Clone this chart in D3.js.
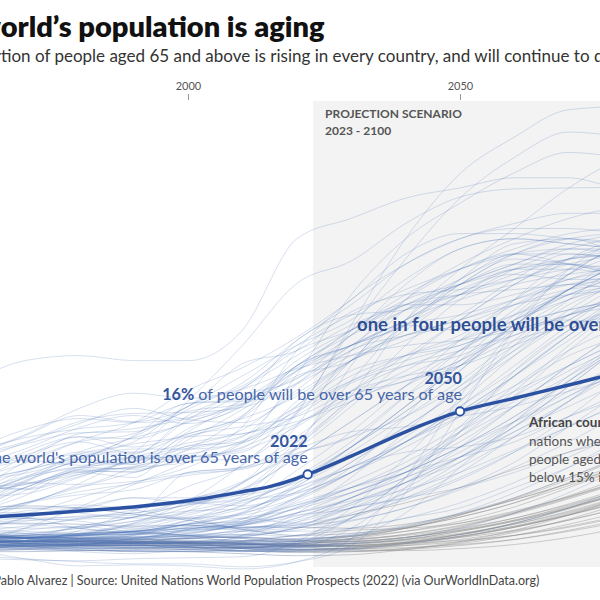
<!DOCTYPE html>
<meta charset="utf-8">
<head>
<style>
  body { margin: 0; background: #fff; }
  svg { display: block; font-family: Lato, "Open Sans", sans-serif; }
  .tick line { stroke: #999; }
  .tick text { fill: #555; font-size: 11px; font-family: Lato, sans-serif; }
</style>
</head>
<body>
<script src="https://d3js.org/d3.v7.min.js"></script>
<script>
var width = 600,
    height = 600;

// share of population aged 65+ (%), one value per decade
var years = [1950,1960,1970,1980,1990,2000,2010,2020,2030,2040,2050,2060,2070,2080,2090,2100];
var tickYears = [1950, 2000, 2050, 2100];

var worldYears = [1950,1960,1970,1980,1990,2000,2010,2015,2020,2022,2030,2040,2050,2060,2070,2080,2090,2100];
var worldShare = [5.4,5.5,5.8,6.2,6.6,7.2,8.1,8.6,9.4,9.8,11.6,14.0,16.0,17.3,18.6,20.0,21.8,23.5];

var eastAsia = [
  ["Japan",       [4.9,5.6,6.9,8.9,11.9,17.0,22.5,28.6,30.8,34.5,37.1,37.9,38.0,38.1,38.5,38.7]],
  ["South Korea", [2.9,3.1,3.3,3.8,5.0,7.2,10.8,15.8,24.5,33.0,39.4,43.0,45.7,46.0,45.0,44.4]],
  ["Hong Kong",   [2.5,2.9,4.5,6.6,8.8,11.0,12.9,19.6,27.5,33.0,36.5,39.5,41.5,41.0,40.5,40.7]],
  ["Taiwan",      [2.5,2.5,2.9,4.3,6.2,8.6,10.7,16.0,24.0,31.0,37.0,41.0,43.5,43.0,42.0,41.0]],
  ["Macao",       [5.0,6.0,6.5,6.5,7.5,7.0,7.5,12.5,20.5,27.0,30.5,33.0,35.0,36.0,36.0,36.0]],
  ["China",       [4.5,4.0,3.8,4.7,5.6,6.9,8.3,12.6,17.6,25.0,30.0,34.0,38.0,41.0,42.5,43.0]],
  ["Singapore",   [2.4,2.0,3.3,4.7,5.6,7.3,9.0,14.6,22.0,27.0,30.0,32.0,33.5,34.0,34.0,33.5]],
  ["Thailand",    [3.2,3.5,3.9,4.5,5.2,6.6,8.9,13.0,19.0,25.0,29.0,31.5,33.0,33.5,33.5,33.5]],
  ["North Korea", [3.0,3.5,3.8,4.2,4.6,6.2,9.0,11.8,13.5,17.5,20.5,23.0,24.5,26.5,28.5,30.0]],
  ["Vietnam",     [5.3,5.0,5.3,5.4,5.6,6.2,6.4,8.6,12.5,16.5,20.5,24.5,28.0,31.5,33.5,34.5]]
];

var europe = [
  ["Monaco",      [17.0,19.0,21.0,21.5,21.0,21.0,24.0,33.0,35.0,37.0,38.0,39.0,39.0,38.0,38.0,37.0]],
  ["Italy",       [8.1,9.3,10.9,13.1,14.9,18.1,20.3,23.3,27.0,31.5,33.5,33.5,33.0,32.5,32.5,32.5]],
  ["Spain",       [7.3,8.2,9.6,11.2,13.6,16.8,17.0,20.0,23.5,28.5,32.0,33.0,32.5,32.0,31.5,31.5]],
  ["Germany",     [9.5,11.5,13.6,15.6,15.0,16.5,20.7,22.0,25.8,27.5,28.0,29.0,30.0,30.5,31.0,31.5]],
  ["France",      [11.4,11.6,12.8,13.9,14.0,16.0,16.8,21.0,24.0,26.5,27.5,28.0,28.5,29.0,29.5,30.0]],
  ["Sweden",      [10.2,11.8,13.7,16.3,17.8,17.3,18.2,20.2,21.5,22.5,23.0,24.0,25.5,26.5,27.5,28.0]],
  ["United Kingdom", [10.8,11.7,13.0,15.0,15.8,15.9,16.4,18.7,21.5,23.5,25.0,26.5,27.5,28.0,29.0,29.5]],
  ["Greece",      [6.8,8.0,11.0,13.0,13.8,16.5,19.5,22.5,25.0,29.0,32.0,33.0,32.5,32.0,31.5,31.0]],
  ["Portugal",    [7.0,7.9,9.4,11.3,13.5,16.2,18.8,23.0,26.5,30.5,33.0,34.0,34.0,33.5,33.0,32.5]],
  ["Poland",      [5.2,5.9,8.2,10.1,10.1,12.2,13.5,18.7,22.5,25.0,28.5,31.5,33.0,32.5,31.5,30.5]],
  ["Russia",      [4.8,6.0,7.7,10.2,10.0,12.6,13.0,15.6,18.8,20.5,21.5,24.0,25.0,24.5,24.0,24.5]],
  ["Ukraine",     [6.5,7.5,10.0,12.0,12.0,13.8,15.3,17.5,21.0,23.0,25.5,29.0,31.5,31.0,30.0,29.5]],
  ["Bulgaria",    [6.5,7.5,9.5,11.8,13.0,16.5,18.5,22.0,24.0,26.5,29.0,31.5,31.5,31.0,30.5,30.5]],
  ["Hungary",     [7.5,8.8,11.5,13.5,13.3,15.0,16.7,20.0,22.5,24.5,28.5,31.0,30.5,29.5,29.5,30.0]],
  ["Austria",     [10.5,12.2,14.2,15.3,14.9,15.4,17.6,19.2,23.5,27.0,28.5,30.0,31.0,31.5,32.0,32.5]],
  ["Finland",     [6.7,7.3,9.1,12.0,13.4,14.9,17.3,23.0,25.5,26.0,27.5,29.5,31.0,32.0,33.0,33.5]],
  ["Norway",      [9.6,11.0,12.9,14.8,16.3,15.2,14.9,17.8,21.0,23.5,25.0,27.0,29.0,30.5,31.5,32.0]],
  ["Denmark",     [9.1,10.6,12.3,14.4,15.6,14.8,16.6,20.3,22.5,24.5,24.0,25.5,27.5,28.5,29.5,30.0]],
  ["Netherlands", [7.7,9.0,10.2,11.5,12.8,13.6,15.4,20.0,24.0,26.5,26.5,27.5,29.0,30.0,31.0,31.5]],
  ["Belgium",     [11.0,12.0,13.4,14.3,14.9,16.8,17.2,19.3,22.0,24.5,25.5,27.0,28.5,29.5,30.5,31.0]],
  ["Switzerland", [9.5,10.2,11.3,13.8,14.3,15.3,16.7,18.8,22.5,26.0,27.5,29.0,30.5,31.5,32.0,32.5]],
  ["Czechia",     [8.2,9.5,12.0,13.5,12.5,13.8,15.6,20.5,22.5,25.0,28.0,29.5,29.0,29.0,29.5,30.0]],
  ["Romania",     [6.5,7.0,8.5,10.3,10.4,13.2,16.2,19.5,21.0,24.5,29.0,32.5,33.0,31.5,30.5,30.5]],
  ["Croatia",     [8.0,8.3,10.2,11.8,11.8,15.6,18.2,22.5,25.5,28.0,30.0,31.5,32.0,31.5,31.0,31.0]],
  ["Serbia",      [5.8,6.5,8.5,10.5,11.0,14.3,16.5,20.5,22.5,24.5,27.5,30.0,30.5,30.0,30.0,30.5]],
  ["Latvia",      [8.5,9.8,11.7,13.0,11.9,15.2,18.3,21.5,24.5,26.5,28.5,30.5,30.5,29.5,29.0,29.5]],
  ["Lithuania",   [8.5,9.2,10.2,11.3,10.8,14.0,17.1,20.5,24.0,27.5,30.0,31.5,30.5,29.5,29.0,29.5]],
  ["Ireland",     [10.7,11.1,11.2,10.7,11.4,11.2,11.3,14.7,18.0,21.5,25.0,28.5,31.0,31.5,32.0,32.5]],
  ["Malta",       [6.0,7.5,9.0,8.8,10.5,12.3,15.5,20.5,23.5,26.0,28.5,30.5,32.0,32.0,31.5,31.0]],
  ["Iceland",     [7.5,8.0,8.8,9.8,10.6,11.5,12.2,14.5,18.0,20.5,22.0,23.5,25.5,27.0,28.0,28.5]],
  ["Cyprus",      [5.5,6.2,8.5,10.0,10.5,11.0,12.5,14.8,17.5,20.0,23.0,25.5,28.0,29.5,30.0,30.5]],
  ["Slovakia",    [6.5,6.8,9.2,10.5,10.3,11.4,12.4,17.0,21.0,24.0,27.5,30.0,30.0,29.5,29.5,30.0]],
  ["Belarus",     [5.5,6.5,9.0,11.0,10.8,13.5,13.8,16.0,19.0,21.5,23.5,26.5,28.5,28.0,27.5,27.5]],
  ["Moldova",     [5.5,6.0,7.0,7.8,8.3,10.0,10.5,13.0,17.0,19.0,20.5,24.0,27.0,28.5,28.5,28.5]],
  ["Georgia",     [7.5,8.0,8.8,10.0,9.5,13.5,14.5,15.5,18.0,19.5,20.5,22.5,24.5,25.5,26.0,26.5]],
  ["Armenia",     [6.0,5.5,5.5,5.6,5.8,10.0,10.5,13.5,17.5,19.0,21.0,24.5,27.5,29.0,29.0,28.5]]
];

var americasOceania = [
  ["United States", [8.2,9.1,9.9,11.3,12.3,12.3,12.9,16.6,20.0,21.5,22.5,24.5,26.0,27.0,28.0,28.5]],
  ["Canada",      [7.7,7.6,7.9,9.5,11.3,12.6,14.2,18.1,22.0,23.5,24.5,26.5,28.0,28.5,29.0,29.0]],
  ["Australia",   [8.1,8.6,8.3,9.6,11.1,12.4,13.6,16.4,19.0,21.0,22.5,24.5,26.0,27.0,28.0,28.5]],
  ["New Zealand", [9.0,8.7,8.4,9.8,11.1,11.8,13.1,16.1,19.5,21.5,23.0,25.0,27.0,28.5,29.5,30.0]],
  ["Brazil",      [2.4,2.6,3.5,4.0,4.3,5.3,6.8,9.6,13.0,17.5,22.0,26.0,29.5,31.5,32.5,33.0]],
  ["Mexico",      [3.2,3.4,3.7,3.9,4.2,4.9,5.9,8.1,11.0,14.5,18.0,22.0,26.0,29.0,31.5,32.5]],
  ["Argentina",   [4.2,5.5,7.0,8.1,8.9,9.7,10.4,11.9,13.5,15.5,18.5,22.0,25.0,27.5,29.0,30.0]],
  ["Chile",       [4.3,4.6,5.2,5.7,6.0,7.3,9.1,12.3,16.5,21.0,25.0,28.5,31.0,32.5,33.0,33.5]],
  ["Colombia",    [3.3,3.1,3.3,3.7,4.2,4.9,6.0,8.9,12.5,16.5,21.0,25.5,29.5,32.5,34.0,35.0]],
  ["Cuba",        [4.5,5.2,5.9,7.5,9.0,10.5,13.0,15.8,21.0,26.0,28.5,30.5,32.5,33.5,34.0,34.0]],
  ["Puerto Rico", [3.8,5.5,7.0,8.5,10.0,11.5,14.5,22.0,27.0,30.5,33.0,34.5,35.5,35.5,35.0,35.0]],
  ["Uruguay",     [8.0,8.5,8.9,10.3,11.5,12.9,13.8,15.0,17.0,19.5,22.0,25.0,28.0,30.5,32.0,33.0]],
  ["Peru",        [3.5,3.5,3.5,3.7,4.2,4.9,6.1,8.7,11.5,14.5,18.0,21.5,25.0,28.0,30.5,32.0]],
  ["Costa Rica",  [3.3,3.4,3.5,3.9,4.8,5.6,6.7,10.2,14.0,18.5,23.0,27.0,30.0,32.0,33.0,33.5]],
  ["Jamaica",     [3.3,4.0,5.5,6.5,7.5,7.5,7.8,9.0,12.0,15.5,19.0,23.0,27.0,30.5,33.0,34.5]],
  ["Ecuador",     [4.0,3.7,3.6,3.8,4.1,5.2,6.4,7.9,10.0,13.0,16.5,20.0,24.0,27.5,30.5,32.5]],
  ["Venezuela",   [2.6,2.8,3.0,3.3,3.8,4.4,5.4,8.5,10.5,13.0,16.0,19.5,23.5,27.0,30.0,32.0]],
  ["Bolivia",     [3.6,3.4,3.6,3.8,4.2,4.7,5.4,6.8,8.0,10.0,12.5,15.5,19.0,22.5,25.5,28.0]],
  ["Guatemala",   [2.5,2.7,2.9,3.0,3.5,4.2,4.6,4.9,5.8,7.3,9.3,12.0,15.5,19.5,23.0,26.5]],
  ["Honduras",    [3.0,2.9,3.0,3.2,3.4,3.8,4.2,4.6,6.0,8.0,10.5,13.5,17.0,21.0,24.5,28.0]],
  ["Haiti",       [5.0,4.5,4.2,4.0,4.2,4.5,4.6,4.8,5.3,6.5,8.3,10.5,13.0,16.0,19.5,23.0]],
  ["Dominican Republic", [2.5,2.6,2.9,3.2,3.8,5.0,6.0,7.5,10.0,13.0,16.0,19.5,23.0,26.5,29.0,31.0]],
  ["Barbados",    [6.5,7.5,9.5,10.5,11.5,11.5,12.0,16.5,21.0,25.0,27.0,28.5,29.5,30.0,30.0,30.0]],
  ["Trinidad and Tobago", [3.5,3.5,4.5,5.5,6.0,6.8,8.2,11.5,15.0,18.5,21.0,23.5,25.5,27.0,28.0,28.5]],
  ["Panama",      [3.5,3.8,4.0,4.5,5.2,6.0,7.0,8.5,10.5,13.0,15.5,18.0,20.5,23.0,25.0,26.5]],
  ["Paraguay",    [3.6,3.5,3.5,3.5,3.9,4.6,5.5,6.4,8.0,10.0,12.5,15.5,19.0,22.5,25.5,28.0]],
  ["Nicaragua",   [2.7,2.6,2.7,2.9,3.1,3.6,4.4,5.3,6.8,9.0,11.5,14.5,18.5,22.5,26.0,29.0]],
  ["El Salvador", [3.2,3.4,3.5,3.9,4.9,5.8,7.2,8.0,10.0,12.5,15.5,19.5,23.5,27.5,30.5,32.5]],
  ["Guyana",      [3.0,3.2,3.5,3.8,4.2,4.5,5.0,7.0,8.5,10.0,12.5,15.0,17.5,20.5,23.0,25.0]],
  ["Papua New Guinea", [3.0,2.9,2.6,2.5,2.6,2.8,2.9,3.2,3.9,4.8,6.0,7.5,9.5,11.5,13.5,15.5]],
  ["Fiji",        [3.0,2.8,2.5,2.8,3.5,4.0,4.8,6.0,8.0,10.0,11.5,13.0,15.5,18.0,20.5,22.5]]
];

var asiaMiddleEast = [
  ["India",       [3.1,3.1,3.4,3.8,3.9,4.4,5.2,6.8,8.5,10.5,13.5,16.5,19.5,22.5,24.5,26.0]],
  ["Indonesia",   [4.0,3.4,3.3,3.5,3.9,4.6,5.0,6.6,9.0,11.5,14.5,17.5,20.5,23.0,25.0,26.5]],
  ["Iran",        [4.0,3.6,3.6,3.2,3.3,4.4,5.1,7.6,10.5,15.5,21.5,27.0,31.0,33.0,33.5,33.0]],
  ["Turkey",      [3.3,3.5,4.3,4.7,4.2,5.3,7.2,9.2,12.5,16.0,20.0,24.5,28.0,30.5,31.5,32.0]],
  ["Bangladesh",  [4.1,3.6,3.2,3.4,3.5,4.3,4.8,5.7,7.5,10.5,14.0,18.0,22.5,26.5,29.5,31.5]],
  ["Philippines", [3.4,2.9,2.9,3.0,3.1,3.4,4.2,5.5,7.0,9.0,11.5,14.0,17.0,20.0,23.0,25.0]],
  ["Pakistan",    [3.7,3.6,3.6,3.6,3.7,3.8,4.2,4.2,4.5,5.5,7.0,9.0,11.5,14.0,17.0,20.0]],
  ["Sri Lanka",   [4.6,4.3,4.7,5.4,6.3,7.4,8.4,11.5,15.0,18.5,22.0,25.0,27.5,29.5,31.0,32.0]],
  ["Malaysia",    [4.4,3.8,3.6,3.8,3.7,4.0,5.0,7.2,10.0,13.5,17.0,21.5,25.5,28.5,30.5,31.5]],
  ["Saudi Arabia", [3.2,3.3,3.1,2.7,2.6,2.6,2.3,2.6,4.5,8.5,14.0,20.0,24.0,26.5,29.0,30.5]],
  ["United Arab Emirates", [2.5,2.3,1.5,0.8,0.9,0.8,0.5,1.2,3.5,9.5,17.5,24.0,28.0,30.5,32.0,33.0]],
  ["Qatar",       [2.0,1.8,1.5,1.2,1.0,1.0,0.7,1.2,2.8,8.0,16.0,24.0,30.0,33.0,34.0,34.5]],
  ["Kuwait",      [2.5,1.6,1.4,1.3,1.5,1.6,1.7,3.2,6.5,11.5,17.0,22.5,26.5,28.5,30.0,31.0]],
  ["Oman",        [2.5,2.6,2.8,2.6,2.2,2.4,2.5,2.5,3.5,6.0,10.5,15.0,19.5,23.0,26.0,28.0]],
  ["Bahrain",     [2.5,2.5,2.6,2.2,2.0,2.3,2.2,3.0,5.5,9.5,14.0,18.5,22.0,24.5,26.5,28.0]],
  ["Israel",      [4.0,5.0,6.8,8.6,9.1,9.9,10.3,12.3,14.0,14.5,15.5,16.5,18.0,19.5,20.5,21.5]],
  ["Nepal",       [3.0,3.1,3.2,3.4,3.6,3.9,4.9,5.8,6.5,8.5,11.5,15.0,19.0,23.0,26.5,29.5]],
  ["Bhutan",      [3.0,3.0,3.2,3.5,4.0,4.5,4.8,6.0,7.5,10.0,13.5,17.5,22.0,26.0,29.5,32.0]],
  ["Maldives",    [5.5,4.5,4.0,3.5,3.4,3.8,3.9,3.7,5.5,9.5,14.5,19.5,23.5,26.5,28.5,30.0]],
  ["Myanmar",     [3.0,3.2,3.6,3.9,4.4,4.9,5.1,6.5,8.5,11.0,14.0,17.0,20.0,22.5,24.5,26.0]],
  ["Laos",        [3.0,3.1,3.2,3.3,3.5,3.7,3.8,4.3,5.2,6.5,8.5,11.0,14.5,18.0,21.0,24.0]],
  ["Cambodia",    [3.0,3.0,3.2,3.0,3.0,3.5,3.8,5.5,7.5,9.5,12.0,15.0,18.0,21.0,23.5,25.5]],
  ["Brunei",      [3.5,3.0,2.8,2.6,2.6,2.8,3.8,6.0,9.5,14.0,18.5,22.5,25.5,27.5,28.5,29.0]],
  ["Mongolia",    [4.5,4.0,3.6,3.8,4.2,3.8,3.9,4.6,7.0,9.0,11.0,14.0,16.5,19.0,21.5,23.5]],
  ["Kazakhstan",  [6.0,5.5,6.2,6.8,6.5,7.0,6.7,8.1,10.5,12.0,12.5,13.5,15.5,17.5,19.5,21.0]],
  ["Uzbekistan",  [6.0,5.0,5.5,4.5,4.1,4.8,4.3,5.1,7.5,9.5,11.5,14.5,17.5,20.0,22.5,24.0]],
  ["Tajikistan",  [5.5,5.0,4.9,4.5,4.0,3.8,3.1,3.2,4.5,5.5,6.5,8.5,10.5,13.0,15.5,18.0]],
  ["Kyrgyzstan",  [6.5,6.0,6.5,6.0,5.5,5.5,4.4,4.8,6.5,7.5,8.5,10.0,12.0,14.0,16.0,18.0]],
  ["Azerbaijan",  [6.5,6.0,5.5,5.2,4.5,5.5,5.8,7.5,11.0,14.0,16.0,18.5,21.5,23.5,25.5,27.0]],
  ["Lebanon",     [6.5,6.2,6.0,6.2,6.5,7.0,7.8,9.5,12.5,16.0,20.0,25.0,29.5,32.5,34.0,35.0]],
  ["Jordan",      [4.5,4.0,3.5,2.8,2.9,3.2,3.5,3.8,5.5,8.0,11.0,14.5,18.5,22.5,25.5,28.0]],
  ["Iraq",        [4.5,4.0,3.6,3.2,3.0,3.1,3.2,3.4,3.8,4.6,6.0,8.0,10.5,13.5,16.5,19.5]],
  ["Afghanistan", [2.8,2.7,2.5,2.4,2.3,2.2,2.3,2.4,2.5,3.0,3.8,5.0,6.5,8.5,10.5,13.0]],
  ["Yemen",       [3.3,3.1,3.0,2.9,2.8,2.7,2.7,2.7,3.0,3.5,4.5,6.0,8.0,10.5,13.0,15.5]],
  ["Syria",       [4.5,4.2,3.5,3.0,3.0,3.1,3.6,4.5,5.5,7.5,10.0,13.5,17.0,20.5,23.5,26.0]],
  ["Morocco",     [4.3,4.0,3.8,3.9,4.0,4.9,5.2,7.4,10.0,13.0,16.5,20.5,24.5,28.0,30.5,32.0]],
  ["Algeria",     [4.0,4.1,4.0,3.7,3.6,4.3,4.8,6.5,8.5,10.5,13.0,16.5,20.5,24.0,27.0,29.0]],
  ["Tunisia",     [4.5,4.8,4.5,4.6,5.6,6.8,7.3,9.2,12.5,16.5,20.5,24.5,28.0,30.5,31.5,32.0]],
  ["Egypt",       [3.0,3.2,3.6,3.8,3.9,4.3,4.5,5.1,6.5,7.5,9.5,12.0,14.5,17.0,19.5,21.5]],
  ["South Africa", [4.0,3.9,3.8,3.9,3.9,4.1,4.9,6.0,7.2,8.3,10.0,12.2,14.5,16.8,18.5,20.0]],
  ["Cape Verde",  [5.0,4.5,5.5,6.5,6.3,5.5,5.5,5.0,6.5,9.0,12.5,16.5,20.5,24.0,27.0,29.5]],
  ["Mauritius",   [3.5,3.0,3.5,4.0,5.0,6.2,7.7,12.5,17.0,22.5,27.0,30.0,32.0,33.0,33.0,32.5]]
];

// African countries still below 15% in 2100 (grey in the projection)
var africaLow = [
  ["Nigeria",     [2.9,2.8,2.7,2.7,2.8,2.8,2.8,2.7,2.8,3.1,3.6,4.3,5.3,6.6,8.2,10.0]],
  ["Ethiopia",    [2.8,2.9,3.0,3.1,3.1,3.1,3.2,3.2,3.5,4.2,5.2,6.6,8.5,10.5,12.5,14.0]],
  ["DR Congo",    [3.4,3.0,2.8,2.8,2.8,2.9,2.8,2.8,2.8,3.0,3.3,3.8,4.6,5.7,7.1,8.8]],
  ["Niger",       [3.5,3.3,3.0,2.8,2.6,2.6,2.6,2.6,2.4,2.3,2.5,2.9,3.6,4.6,5.8,7.3]],
  ["Kenya",       [3.3,3.2,3.3,3.4,3.0,2.5,2.6,2.9,3.5,4.5,5.6,7.0,9.0,11.0,13.0,14.5]],
  ["Tanzania",    [2.5,2.6,2.7,2.8,2.8,2.8,2.9,3.0,3.2,3.6,4.3,5.3,6.7,8.3,10.0,11.5]],
  ["Uganda",      [2.1,2.2,2.4,2.5,2.5,2.4,2.3,2.1,2.2,2.5,3.2,4.3,5.8,7.6,9.5,11.3]],
  ["Ghana",       [3.0,3.1,3.1,3.2,3.4,3.5,3.3,3.3,3.7,4.5,5.8,7.4,9.3,11.5,13.5,15.0]],
  ["Angola",      [3.5,3.0,2.7,2.6,2.5,2.4,2.3,2.2,2.4,2.8,3.4,4.2,5.3,6.6,8.1,9.7]],
  ["Mali",        [3.8,3.4,3.2,3.5,3.5,3.0,2.7,2.4,2.3,2.5,3.0,3.8,4.9,6.2,7.8,9.5]],
  ["Chad",        [3.5,3.5,3.3,3.1,2.9,2.7,2.5,2.2,2.2,2.4,2.8,3.4,4.3,5.4,6.7,8.1]],
  ["Somalia",     [3.0,3.0,2.9,2.8,2.7,2.6,2.6,2.6,2.5,2.6,2.9,3.4,4.2,5.2,6.4,7.8]],
  ["Mozambique",  [3.3,3.2,3.2,3.2,3.2,3.1,3.0,2.8,2.8,3.1,3.7,4.6,5.8,7.2,8.7,10.3]],
  ["Zambia",      [2.6,2.5,2.4,2.3,2.3,2.2,2.0,1.8,1.9,2.4,3.1,4.1,5.4,7.0,8.7,10.5]],
  ["Malawi",      [3.0,2.9,2.8,2.8,2.8,3.1,3.0,2.7,2.7,3.1,3.9,5.0,6.4,8.0,9.7,11.4]],
  ["Burkina Faso", [4.2,3.8,3.5,3.2,3.0,2.9,2.6,2.4,2.5,2.9,3.6,4.6,5.9,7.4,9.0,10.6]],
  ["Cameroon",    [4.0,3.8,3.7,3.5,3.3,3.2,3.0,2.7,2.8,3.2,3.9,4.9,6.2,7.7,9.3,11.0]],
  ["Sudan",       [3.5,3.4,3.2,3.1,3.1,3.2,3.3,3.5,3.7,4.2,5.0,6.2,7.6,9.2,10.9,12.5]],
  ["Madagascar",  [3.2,3.2,3.1,3.0,3.0,3.0,2.9,3.0,3.3,3.9,4.8,6.0,7.5,9.2,11.0,12.8]],
  ["Senegal",     [2.5,2.4,2.5,2.8,3.0,3.1,2.9,3.1,3.4,3.9,4.7,5.9,7.4,9.1,10.9,12.7]],
  ["Cote d'Ivoire", [2.2,2.2,2.2,2.3,2.4,2.6,2.5,2.4,2.6,3.0,3.7,4.7,6.0,7.5,9.2,10.9]],
  ["Rwanda",      [3.3,3.0,2.7,2.4,2.2,2.2,2.5,3.0,3.7,4.5,5.8,7.5,9.5,11.6,13.3,14.6]],
  ["Burundi",     [4.0,3.7,3.5,3.3,3.2,3.1,2.5,2.3,2.5,3.0,3.7,4.6,5.8,7.3,8.9,10.5]],
  ["Benin",       [3.0,3.4,3.6,3.4,3.2,3.0,2.9,3.0,3.2,3.6,4.3,5.3,6.6,8.1,9.7,11.4]],
  ["Guinea",      [3.2,3.2,3.2,3.3,3.2,3.2,3.0,2.9,3.0,3.4,4.0,4.9,6.1,7.6,9.2,10.9]],
  ["Zimbabwe",    [3.2,3.1,3.2,3.2,3.1,3.6,3.6,3.3,3.2,3.6,4.6,6.0,7.6,9.3,11.0,12.6]],
  ["South Sudan", [3.3,3.2,3.0,2.9,2.9,3.0,3.0,2.9,3.0,3.3,3.9,4.7,5.8,7.1,8.6,10.1]],
  ["Togo",        [3.2,3.2,3.3,3.3,3.1,2.9,2.7,2.8,3.1,3.6,4.4,5.5,6.9,8.5,10.1,11.8]],
  ["Sierra Leone", [3.0,3.1,3.0,2.9,2.8,2.7,2.6,2.8,3.0,3.4,4.2,5.2,6.5,8.0,9.6,11.2]],
  ["Liberia",     [3.0,2.9,2.9,2.9,3.0,3.0,3.1,3.2,3.4,3.8,4.5,5.5,6.8,8.3,9.8,11.3]],
  ["Central African Rep.", [3.8,3.7,3.6,3.6,3.6,3.7,3.5,2.9,2.7,2.8,3.2,3.8,4.7,5.8,7.1,8.6]],
  ["Congo",       [3.9,3.8,3.6,3.5,3.4,3.3,3.1,2.8,2.9,3.4,4.2,5.2,6.5,8.0,9.6,11.2]],
  ["Gabon",       [6.5,6.5,6.7,6.5,5.9,5.3,4.4,3.8,4.0,4.6,5.6,7.0,8.7,10.5,12.4,14.2]],
  ["Eritrea",     [2.6,2.7,2.8,2.9,3.2,3.0,3.2,3.8,4.3,4.5,5.0,6.1,7.7,9.6,11.6,13.5]],
  ["Namibia",     [3.4,3.5,3.8,4.0,4.1,3.8,3.6,3.4,3.8,4.7,5.9,7.3,8.9,10.7,12.5,14.2]],
  ["Botswana",    [3.0,3.2,3.2,3.2,3.3,3.5,3.7,4.5,5.8,7.0,8.5,10.3,12.0,13.3,14.1,14.7]],
  ["Lesotho",     [5.0,5.0,5.0,4.9,4.7,4.8,4.6,4.6,4.5,4.9,5.9,7.3,8.9,10.6,12.3,13.9]],
  ["Gambia",      [2.4,2.5,2.7,3.0,3.1,2.7,2.2,2.3,2.6,3.1,3.9,5.0,6.5,8.2,10.0,11.8]]
];

var svg = d3.select("body").append("svg")
    .attr("width", width)
    .attr("height", height);

var x = d3.scaleLinear().domain([1950, 2100]).range([-84, 732]);
var y = d3.scaleLinear().domain([0, 45]).range([574, 116.8]);

function textWidth(str, size, weight) {
  var t = svg.append("text").attr("font-size", size).attr("font-weight", weight).text(str);
  var w = t.node().getComputedTextLength();
  t.remove();
  return w;
}

// the left part of the title block lies outside the crop
svg.append("text")
    .attr("x", 1 - textWidth("The w", 29, 800)).attr("y", 37)
    .attr("font-size", 29).attr("font-weight", 800).attr("fill", "#111")
    .text("The world\u2019s population is aging");

svg.append("text")
    .attr("x", 1 - textWidth("The propor", 17, 400)).attr("y", 62)
    .attr("font-size", 17).attr("fill", "#333")
    .text("The proportion of people aged 65 and above is rising in every country, and will continue to do so for decades");

// projection band
svg.append("rect")
    .attr("x", x(2023)).attr("y", 101)
    .attr("width", x(2100) - x(2023)).attr("height", 466)
    .attr("fill", "#f3f3f3");

svg.append("text")
    .attr("x", x(2023) + 12).attr("y", 118)
    .attr("font-size", 12).attr("font-weight", 700).attr("fill", "#555")
    .text("PROJECTION SCENARIO");
svg.append("text")
    .attr("x", x(2023) + 12).attr("y", 135)
    .attr("font-size", 12).attr("font-weight", 700).attr("fill", "#555")
    .text("2023 - 2100");

svg.append("g")
    .attr("transform", "translate(0,100)")
    .call(d3.axisTop(x).tickValues(tickYears).tickSize(6).tickPadding(4).tickFormat(d3.format("d")))
    .call(function(g) { g.select(".domain").remove(); });

// african lines turn grey once the projection starts
var grad = svg.append("defs").append("linearGradient")
    .attr("id", "africaGrad")
    .attr("gradientUnits", "userSpaceOnUse")
    .attr("x1", x(2015)).attr("y1", 0)
    .attr("x2", x(2035)).attr("y2", 0);
grad.append("stop").attr("offset", "0%").attr("stop-color", "#5d76a8");
grad.append("stop").attr("offset", "100%").attr("stop-color", "#8a8a8a");

var line = d3.line()
    .x(function(d, i) { return x(years[i]); })
    .y(function(d) { return y(d); })
    .curve(d3.curveMonotoneX);

var lines = svg.append("g").attr("fill", "none");

lines.selectAll(".africa").data(africaLow).enter().append("path")
    .attr("class", "africa")
    .attr("d", function(d) { return line(d[1]); })
    .attr("stroke", "url(#africaGrad)")
    .attr("stroke-opacity", 0.4)
    .attr("stroke-width", 1);

var blueGroups = eastAsia.concat(europe, americasOceania, asiaMiddleEast);
lines.selectAll(".country").data(blueGroups).enter().append("path")
    .attr("class", "country")
    .attr("d", function(d) { return line(d[1]); })
    .attr("stroke", "#4b70b4")
    .attr("stroke-opacity", 0.22)
    .attr("stroke-width", 1);

// world average
var worldLine = d3.line()
    .x(function(d, i) { return x(worldYears[i]); })
    .y(function(d) { return y(d); })
    .curve(d3.curveMonotoneX);

svg.append("path")
    .attr("d", worldLine(worldShare))
    .attr("fill", "none")
    .attr("stroke", "#2b52a2")
    .attr("stroke-width", 3.5);

var marks = [2022, 2050];
svg.selectAll(".mark").data(marks).enter().append("circle")
    .attr("class", "mark")
    .attr("cx", function(d) { return x(d); })
    .attr("cy", function(d) { return y(worldShare[worldYears.indexOf(d)]); })
    .attr("r", 4.2)
    .attr("fill", "#fff")
    .attr("stroke", "#2b52a2")
    .attr("stroke-width", 1.8);

// annotations
function note(year, boldPart, rest, dx) {
  var cx = x(year), cy = y(worldShare[worldYears.indexOf(year)]);
  svg.append("text")
      .attr("x", cx + dx).attr("y", cy - 27)
      .attr("text-anchor", "end")
      .attr("font-size", 16.2).attr("font-weight", 700).attr("fill", "#34569c")
      .text(year);
  var t = svg.append("text")
      .attr("x", cx + dx).attr("y", cy - 11)
      .attr("text-anchor", "end")
      .attr("font-size", 16.2).attr("fill", "#4766a8");
  t.append("tspan").attr("font-weight", 700).attr("fill", "#34569c").text(boldPart);
  t.append("tspan").text(rest);
}
note(2022, "10%", " of the world's population is over 65 years of age", 0);
note(2050, "16%", " of people will be over 65 years of age", 2);

svg.append("text")
    .attr("x", 357).attr("y", 331)
    .attr("font-size", 18.5).attr("font-weight", 700).attr("fill", "#2f4f94")
    .text("one in four people will be over 65 years of age");

var africaNote = ["nations where the share of", "people aged 65+ will remain", "below 15% in 2100"];
svg.append("text")
    .attr("x", 529).attr("y", 427)
    .attr("font-size", 13.5).attr("font-weight", 700).attr("fill", "#444")
    .text("African countries are the");
svg.selectAll(".afnote").data(africaNote).enter().append("text")
    .attr("class", "afnote")
    .attr("x", 529)
    .attr("y", function(d, i) { return 445.5 + i * 18.3; })
    .attr("font-size", 13.5).attr("fill", "#555")
    .text(function(d) { return d; });

svg.append("text")
    .attr("x", 1 - textWidth("Visualization: P", 12.5, 400)).attr("y", 585)
    .attr("font-size", 12.5).attr("fill", "#444")
    .text("Visualization: Pablo Alvarez | Source: United Nations World Population Prospects (2022) (via OurWorldInData.org)");
</script>
</body>
